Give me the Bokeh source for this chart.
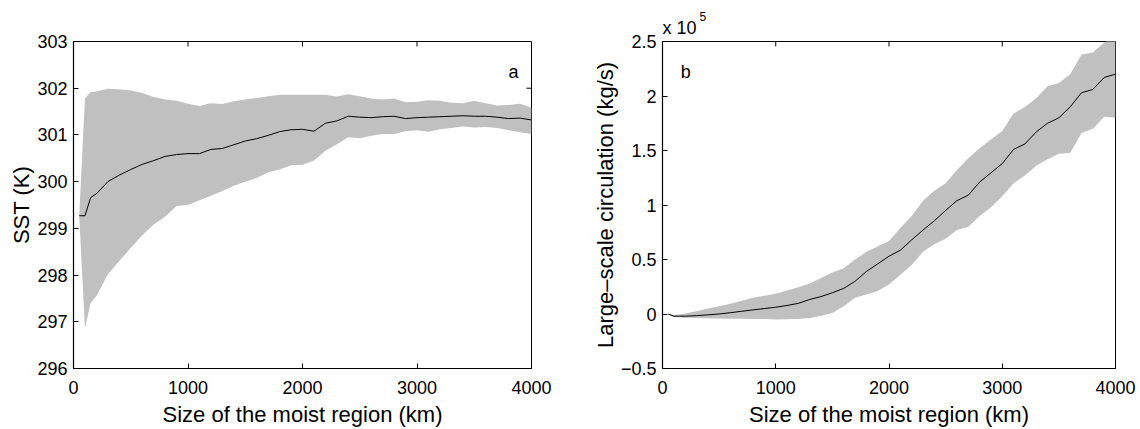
from bokeh.plotting import figure
from bokeh.models import Range1d, FixedTicker, Label, Title
from bokeh.layouts import row
from bokeh.embed import file_html
from bokeh.resources import INLINE

# ---- data ----
size_km = [50, 100, 150, 200, 300, 400, 500, 600, 700, 800, 900, 1000, 1100, 1200, 1300,
           1400, 1500, 1600, 1700, 1800, 1900, 2000, 2100, 2200, 2300, 2400, 2500, 2600,
           2700, 2800, 2900, 3000, 3100, 3200, 3300, 3400, 3500, 3600, 3700, 3800, 3900, 4000]

sst_mean = [299.27, 299.27, 299.66, 299.74, 300.00, 300.14, 300.26, 300.37, 300.45, 300.54,
            300.58, 300.60, 300.60, 300.69, 300.71, 300.79, 300.87, 300.92, 300.99, 301.07,
            301.11, 301.12, 301.08, 301.25, 301.30, 301.40, 301.38, 301.37, 301.39, 301.40,
            301.35, 301.37, 301.38, 301.39, 301.40, 301.41, 301.40, 301.40, 301.38, 301.35,
            301.36, 301.32]
sst_upper = [299.27, 301.78, 301.92, 301.93, 301.99, 301.98, 301.95, 301.90, 301.81, 301.76,
             301.73, 301.67, 301.62, 301.68, 301.66, 301.72, 301.76, 301.79, 301.83, 301.86,
             301.86, 301.86, 301.86, 301.86, 301.82, 301.87, 301.83, 301.78, 301.76, 301.78,
             301.70, 301.71, 301.74, 301.73, 301.69, 301.68, 301.73, 301.68, 301.63, 301.64,
             301.67, 301.58]
sst_lower = [299.27, 296.86, 297.40, 297.55, 298.02, 298.30, 298.58, 298.85, 299.08, 299.25,
             299.48, 299.50, 299.60, 299.70, 299.80, 299.91, 300.00, 300.08, 300.20, 300.26,
             300.35, 300.36, 300.45, 300.66, 300.80, 300.95, 300.93, 300.98, 301.02, 301.02,
             301.08, 301.10, 301.07, 301.12, 301.15, 301.18, 301.16, 301.17, 301.15, 301.10,
             301.06, 301.02]

circ_mean = [0.00, -0.02, -0.02, -0.02, -0.015, -0.008, 0.0, 0.012, 0.025, 0.038,
             0.05, 0.062, 0.078, 0.098, 0.133, 0.16, 0.195, 0.235, 0.30, 0.39,
             0.46, 0.53, 0.585, 0.68, 0.77, 0.855, 0.95, 1.04, 1.09, 1.21,
             1.295, 1.38, 1.51, 1.56, 1.67, 1.75, 1.80, 1.90, 2.03, 2.06, 2.17, 2.20]
circ_upper = [0.00, -0.01, -0.005, 0.005, 0.025, 0.05, 0.072, 0.095, 0.122, 0.15,
              0.167, 0.185, 0.216, 0.245, 0.28, 0.33, 0.38, 0.42, 0.50, 0.57,
              0.62, 0.67, 0.79, 0.90, 1.04, 1.13, 1.20, 1.32, 1.43, 1.52,
              1.60, 1.68, 1.84, 1.90, 1.98, 2.09, 2.12, 2.20, 2.38, 2.40, 2.49, 2.55]
circ_lower = [0.00, -0.03, -0.03, -0.035, -0.036, -0.04, -0.042, -0.043, -0.044, -0.045,
              -0.046, -0.05, -0.048, -0.045, -0.037, -0.015, 0.01, 0.07, 0.15, 0.18,
              0.21, 0.27, 0.36, 0.45, 0.57, 0.64, 0.69, 0.77, 0.80, 0.90,
              0.98, 1.08, 1.20, 1.27, 1.36, 1.42, 1.47, 1.48, 1.66, 1.70, 1.81, 1.80]

x_ticks = [0, 1000, 2000, 3000, 4000]
sst_ticks = [296, 297, 298, 299, 300, 301, 302, 303]
circ_ticks = [-0.5, 0, 0.5, 1, 1.5, 2, 2.5]
circ_tick_labels = {-0.5: "\u22120.5", 0: "0", 0.5: "0.5", 1: "1", 1.5: "1.5", 2: "2", 2.5: "2.5"}

FONT = "Liberation Sans"
BAND = "#c0c0c0"
FRAME_W = {"a": 458, "b": 453}
FRAME_H = 330
TICK_PX = 5


def style(p, yticks, xlabel, ylabel, frame_w, ylab_overrides=None):
    p.xgrid.visible = False
    p.ygrid.visible = False
    p.outline_line_color = "black"
    p.outline_line_width = 1
    p.outline_line_alpha = 1
    p.background_fill_color = "white"
    p.border_fill_color = "white"
    for ax in (p.xaxis[0], p.yaxis[0]):
        ax.axis_line_color = "black"
        ax.axis_line_width = 1.2
        ax.major_tick_in = TICK_PX
        ax.major_tick_out = 0
        ax.minor_tick_in = 0
        ax.minor_tick_out = 0
        ax.major_tick_line_color = "black"
        ax.major_label_text_font = FONT
        ax.major_label_text_font_size = "18px"
        ax.major_label_text_color = "black"
        ax.axis_label_text_font = FONT
        ax.axis_label_text_font_size = "22px"
        ax.axis_label_text_font_style = "normal"
        ax.axis_label_text_color = "black"
    p.xaxis[0].ticker = FixedTicker(ticks=x_ticks)
    p.yaxis[0].ticker = FixedTicker(ticks=yticks)
    p.xaxis[0].major_label_standoff = 12
    p.yaxis[0].major_label_standoff = 6
    p.xaxis[0].axis_label = xlabel
    p.yaxis[0].axis_label = ylabel
    p.xaxis[0].axis_label_standoff = 5
    p.yaxis[0].axis_label_standoff = 0
    if ylab_overrides:
        p.yaxis[0].major_label_overrides = ylab_overrides
    # inward ticks along the top edge
    y0, y1 = p.y_range.start, p.y_range.end
    tlen = (y1 - y0) * TICK_PX / FRAME_H
    inner = x_ticks[1:-1]
    p.segment(x0=inner, y0=[y1] * len(inner), x1=inner, y1=[y1 - tlen] * len(inner),
              line_color="black", line_width=1)
    return p


# ---- panel a ----
p1 = figure(width=570, height=429, output_backend="svg", toolbar_location=None,
            x_range=Range1d(0, 4000), y_range=Range1d(296, 303),
            min_border_left=73, min_border_right=39, min_border_top=41, min_border_bottom=58)
p1.varea(x=size_km, y1=sst_lower, y2=sst_upper, fill_color=BAND, fill_alpha=1)
p1.line(x=size_km, y=sst_mean, line_color="black", line_width=1)
style(p1, sst_ticks, "Size of the moist region (km)", "SST (K)", FRAME_W["a"])
xlen = 4000 * TICK_PX / FRAME_W["a"]
p1.segment(x0=[4000], y0=[sst_ticks[-2]], x1=[4000 - xlen], y1=[sst_ticks[-2]],
           line_color="black", line_width=1)
p1.add_layout(Label(x=3843, y=302.34, text="a", text_font=FONT, text_font_size="18px",
                    text_color="black", text_align="center", text_baseline="middle"))

# ---- panel b ----
p2 = figure(width=570, height=429, output_backend="svg", toolbar_location=None,
            x_range=Range1d(0, 4000), y_range=Range1d(-0.5, 2.5),
            min_border_left=92, min_border_right=25, min_border_top=41, min_border_bottom=58)
p2.varea(x=size_km, y1=circ_lower, y2=circ_upper, fill_color=BAND, fill_alpha=1)
p2.line(x=size_km, y=circ_mean, line_color="black", line_width=1)
style(p2, circ_ticks, "Size of the moist region (km)", "Large\u2013scale circulation (kg/s)",
      FRAME_W["b"], circ_tick_labels)
p2.add_layout(Label(x=206, y=2.22, text="b", text_font=FONT, text_font_size="18px",
                    text_color="black", text_align="center", text_baseline="middle"))
# axis multiplier "x 10^5" above the top-left corner
p2.add_layout(Title(text="x 10", align="left", offset=0, standoff=7, text_font=FONT,
                    text_font_size="18px", text_font_style="normal", text_color="black"), "above")
p2.add_layout(Title(text="5", align="left", offset=37, standoff=-17, text_font=FONT,
                    text_font_size="12px", text_font_style="normal", text_color="black"), "above")

layout = row(p1, p2)
open("out.html", "w").write(file_html(layout, INLINE))
